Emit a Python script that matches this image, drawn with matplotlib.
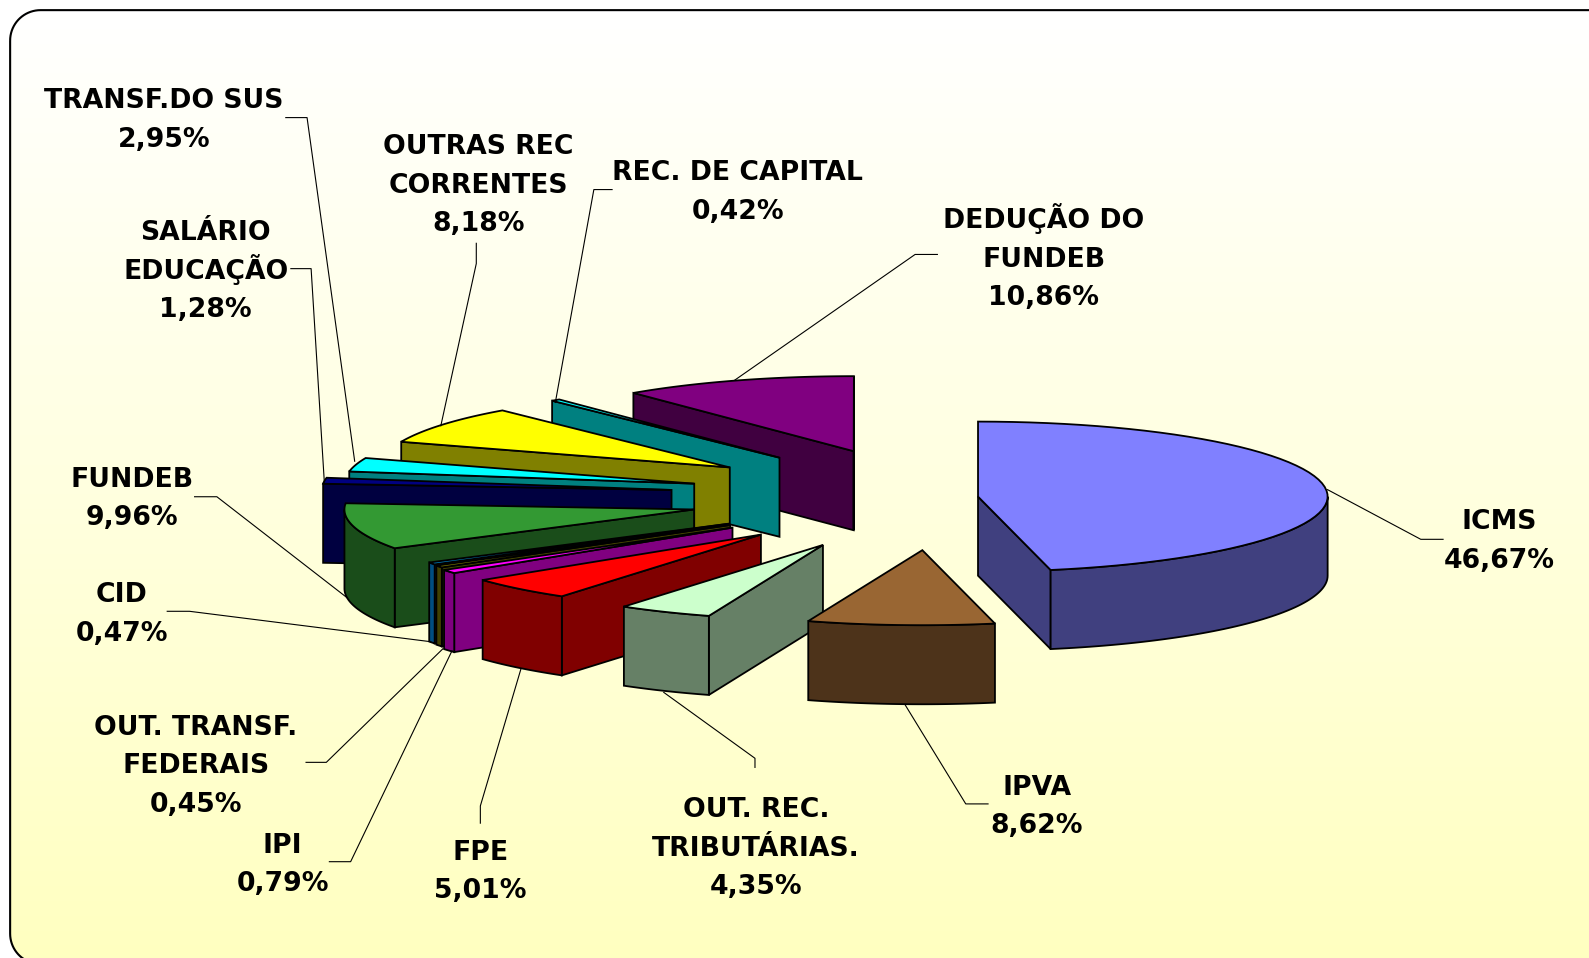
import numpy as np
import matplotlib
matplotlib.use("Agg")
import matplotlib.pyplot as plt
from matplotlib.patches import Polygon

plt.rcParams['font.family'] = ['DejaVu Sans']

labels = ['ICMS', 'IPVA', 'OUT. REC.\nTRIBUTÁRIAS.', 'FPE', 'IPI', 'OUT. TRANSF.\nFEDERAIS', 'CID',
          'FUNDEB', 'SALÁRIO\nEDUCAÇÃO', 'TRANSF.DO SUS', 'OUTRAS REC\nCORRENTES', 'REC. DE CAPITAL',
          'DEDUÇÃO DO\nFUNDEB']
values = [46.67, 8.62, 4.35, 5.01, 0.79, 0.45, 0.47, 9.96, 1.28, 2.95, 8.18, 0.42, 10.86]
explode = [0.146, 0.70, 0.66, 0.68, 0.68, 0.68, 0.68, 0.685, 0.737, 0.689, 0.687, 0.66, 0.63]
# small hand correction of each exploded slice (dx, dy)
nudge = [(0, 2), (10, 2), (0, 5), (-2, 2), (-2, 2), (1, 1), (3, 1),
         (0, 2), (0, 1), (0, 1), (0, 1), (0, 0), (0, 0)]

top_colors = ['#8080FF', '#996633', '#CCFFCC', '#FF0000', '#FF00FF', '#808000', '#0080C0',
              '#339933', '#000080', '#00FFFF', '#FFFF00', '#00FFFF', '#800080']
side_colors = ['#40407F', '#4D331A', '#668066', '#800000', '#800080', '#404000', '#004D80',
               '#1A4D1A', '#000040', '#008080', '#808000', '#008080', '#400040']

# label centre and leader line for each slice
label_pos = [(1479, 532), (1023, 794), (746, 835), (474, 858), (279, 851), (193, 754), (120, 604),
             (130, 490), (203, 266), (162, 117), (472, 181), (728, 188), (1030, 254)]
leaders = [[(1310, 483), (1402, 532), (1424, 532)], [(893, 695), (953, 793), (975, 793)],
           [(655, 683), (745, 748), (745, 757)], [(514, 660), (474, 795), (474, 812)],
           [(446, 642), (346, 850), (325, 850)], [(437, 640), (322, 752), (302, 752)],
           [(425, 633), (187, 603), (165, 603)], [(343, 590), (214, 490), (192, 490)],
           [(320, 475), (307, 265), (287, 265)], [(350, 455), (303, 116), (282, 116)],
           [(435, 420), (470, 260), (470, 240)], [(548, 397), (586, 187), (604, 187)],
           [(725, 375), (903, 251), (925, 251)]]

# back slices first, painter style
draw_order = [12, 11, 10, 9, 8, 7, 6, 5, 4, 3, 2, 1, 0]

cx, cy = 915, 489
rx, ry = 345, 74
depth = 78
lw = 1.3
line_pitch = 38

fig = plt.figure(figsize=(15.89, 9.58), dpi=100)
ax = fig.add_axes([0, 0, 1, 1])
ax.set_xlim(0, 1568)
ax.set_ylim(945, 0)
ax.axis('off')

# rounded frame, runs off the right and bottom of the picture
r = 30
left, up, right, down = 10, 10, 1600, 951
q = np.linspace(0, np.pi / 2, 20)
fx = np.r_[left + r - r * np.cos(q), right, right, left + r - r * np.sin(q)]
fy = np.r_[up + r - r * np.sin(q), up, down, down - r + r * np.cos(q)]
frame = Polygon(np.column_stack([fx, fy]), closed=True, fc='none', ec='black', lw=1.5, zorder=2)
ax.add_patch(frame)
grad = np.zeros((256, 1, 3))
t = np.linspace(0, 1, 256)
grad[:, 0, 0] = 1
grad[:, 0, 1] = 1
grad[:, 0, 2] = 1 - t * (1 - 0xC0 / 255)
im = ax.imshow(grad, extent=(10, 1568, 951, 10), aspect='auto', zorder=1)
im.set_clip_path(frame)
ax.set_xlim(0, 1568)
ax.set_ylim(945, 0)


def pt(theta, ox, oy):
    return ox + rx * np.sin(theta), oy - ry * np.cos(theta)


edges = np.radians(np.concatenate([[0], np.cumsum(values)]) * 3.6)
z = 5
for i in draw_order:
    a, b = edges[i], edges[i + 1]
    mid = (a + b) / 2
    ox = cx + explode[i] * rx * np.sin(mid) + nudge[i][0]
    oy = cy - explode[i] * ry * np.cos(mid) + nudge[i][1]

    # side wall on the start edge, left half only
    if np.sin(a) < 0:
        xa, ya = pt(a, ox, oy)
        ax.add_patch(Polygon([(ox, oy), (xa, ya), (xa, ya + depth), (ox, oy + depth)],
                             fc=side_colors[i], ec='black', lw=lw, zorder=z))
    # side wall on the end edge, right half only
    if np.sin(b) > 0:
        xb, yb = pt(b, ox, oy)
        ax.add_patch(Polygon([(ox, oy), (xb, yb), (xb, yb + depth), (ox, oy + depth)],
                             fc=side_colors[i], ec='black', lw=lw, zorder=z))
    # outer wall, front half of the rim
    lo, hi = max(a, np.pi / 2), min(b, 3 * np.pi / 2)
    if hi > lo:
        th = np.linspace(lo, hi, 60)
        xs, ys = pt(th, ox, oy)
        wall = np.column_stack([np.r_[xs, xs[::-1]], np.r_[ys, ys[::-1] + depth]])
        ax.add_patch(Polygon(wall, fc=side_colors[i], ec='black', lw=lw, zorder=z))
    # top face
    th = np.linspace(a, b, 60)
    xs, ys = pt(th, ox, oy)
    top = np.column_stack([np.r_[ox, xs], np.r_[oy, ys]])
    ax.add_patch(Polygon(top, fc=top_colors[i], ec='black', lw=lw, zorder=z))
    z += 1

for i in range(len(labels)):
    xs, ys = zip(*leaders[i])
    ax.plot(xs, ys, color='black', lw=0.8, zorder=30)
    lines = labels[i].split('\n') + [f'{values[i]:.2f}'.replace('.', ',') + '%']
    # one text per line, accents would make the spacing uneven otherwise
    for k, line in enumerate(lines):
        y = label_pos[i][1] + (k - (len(lines) - 1) / 2) * line_pitch + 9
        ax.text(label_pos[i][0], y, line, ha='center', va='baseline', fontsize=19.2,
                fontweight='bold', color='black', zorder=31)

fig.savefig('out.png', dpi=100, facecolor='white')
